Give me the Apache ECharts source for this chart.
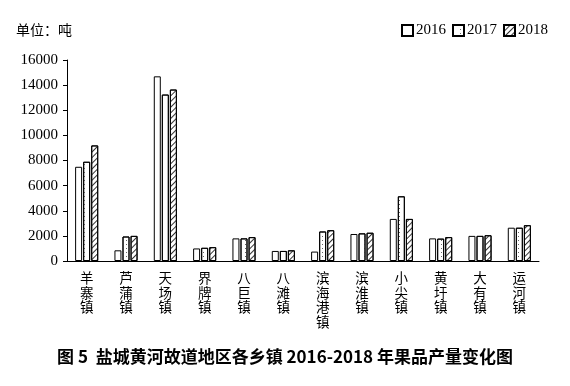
<!DOCTYPE html>
<html><head><meta charset="utf-8">
<script src="https://cdn.jsdelivr.net/npm/echarts@6/dist/echarts.min.js"></script>
<style>html,body{margin:0;padding:0;background:#fff}#c{width:570px;height:386px}</style>
</head><body><div id="c"></div>
<script>
const categories = ['羊寨镇','芦蒲镇','天场镇','界牌镇','八巨镇','八滩镇','滨海港镇','滨淮镇','小尖镇','黄圩镇','大有镇','运河镇'];
const years = ['2016','2017','2018'];
const v2016 = [7500, 850, 14700, 1000, 1800, 800, 750, 2150, 3350, 1800, 2000, 2650];
const v2017 = [7900, 1950, 13250, 1050, 1800, 800, 2350, 2200, 5150, 1780, 2000, 2650];
const v2018 = [9200, 2000, 13650, 1100, 1900, 850, 2450, 2250, 3350, 1900, 2050, 2850];
const yTicks = [0, 2000, 4000, 6000, 8000, 10000, 12000, 14000, 16000];

const chart = echarts.init(document.getElementById('c'), null, {renderer:'canvas'});
const serif = '"Liberation Serif", "Noto Sans CJK SC", serif';
const decals = [
  null,
  {symbol:'rect', symbolSize:1, color:'#666', dashArrayX:[1, 6], dashArrayY:[1, 3]},
  {symbol:'rect', symbolSize:1, color:'#333', dashArrayX:[1, 0], dashArrayY:[1, 2.2], rotation: -Math.PI/4}
];
const vals = [v2016, v2017, v2018];
chart.setOption({
  animation:false,
  backgroundColor:'#fff',
  graphic:[
    {type:'text', left:16, top:23, style:{text:'单位：吨', font:'14px "Noto Sans CJK SC"', fill:'#000'}},
    {type:'text', left:'center', top:348, style:{text:'图 5  盐城黄河故道地区各乡镇 2016-2018 年果品产量变化图', font:'bold 17px "Noto Sans CJK SC"', fill:'#000'}}
  ],
  legend:{
    right:22, top:23, padding:0, itemWidth:11, itemHeight:11, itemGap:6, icon:'rect',
    textStyle:{fontFamily:serif, fontSize:15, color:'#000', padding:[0,0,0,-2]},
    data:years
  },
  grid:{left:67, right:31, top:60, bottom:125},
  xAxis:{
    type:'category', data:categories,
    axisLine:{lineStyle:{color:'#000', width:1}},
    axisTick:{inside:true, length:5, lineStyle:{color:'#000'}},
    axisLabel:{
      interval:0, margin:10, fontFamily:'"Noto Sans CJK SC"', fontSize:13.5, color:'#000', lineHeight:14.5,
      formatter:function(v){return v.split('').join('\n');}
    }
  },
  yAxis:{
    type:'value', min:0, max:16000, interval:2000,
    splitLine:{show:false},
    axisLine:{show:true, lineStyle:{color:'#000', width:1}},
    axisTick:{show:true, inside:false, length:4, lineStyle:{color:'#000'}},
    axisLabel:{fontFamily:serif, fontSize:15, color:'#000', margin:9,
      formatter:function(v){return yTicks.indexOf(v)>=0 ? String(v) : '';}}
  },
  series: years.map(function(y,i){
    return {
      name:y, type:'bar', data:vals[i], barWidth:7, barGap:'15%',
      itemStyle:{color:'#fff', borderColor:'#000', borderWidth:1, decal:decals[i]||undefined}
    };
  })
});
</script></body></html>
